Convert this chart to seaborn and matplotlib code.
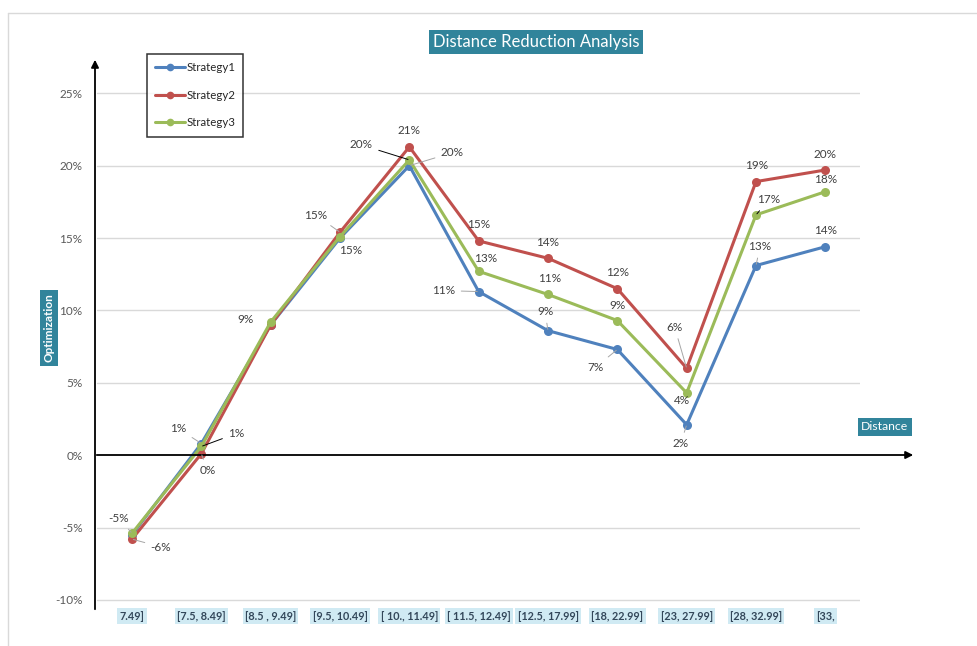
import numpy as np
import pandas as pd
import matplotlib
matplotlib.use("Agg")
import matplotlib.pyplot as plt
import matplotlib.transforms as mtransforms
from matplotlib.lines import Line2D
import seaborn as sns

# Distance buckets (as shown on the category axis)
categories = ["7.49]", "[7.5, 8.49]", "[8.5 , 9.49]", "[9.5, 10.49]", "[ 10., 11.49]",
              "[ 11.5, 12.49]", "[12.5, 17.99]", "[18, 22.99]", "[23, 27.99]",
              "[28, 32.99]", "[33,"]

# Optimization (%) per strategy
strategy1 = [-5.5, 0.8, 9.0, 15.0, 20.0, 11.3, 8.6, 7.3, 2.1, 13.1, 14.4]
strategy2 = [-5.8, 0.1, 9.0, 15.4, 21.3, 14.8, 13.6, 11.5, 6.0, 18.9, 19.7]
strategy3 = [-5.4, 0.6, 9.2, 15.1, 20.4, 12.7, 11.1, 9.3, 4.3, 16.6, 18.2]

series_names = ["Strategy1", "Strategy2", "Strategy3"]
y_ticks = [-10, -5, 0, 5, 10, 15, 20, 25]

df = pd.DataFrame({
    "pos": np.tile(np.arange(len(categories)), 3),
    "value": strategy1 + strategy2 + strategy3,
    "series": np.repeat(series_names, len(categories)),
})

palette = {"Strategy1": "#4F81BD", "Strategy2": "#C0504D", "Strategy3": "#9BBB59"}

sns.set_style("white")
plt.rcParams["font.family"] = ["Lato", "DejaVu Sans"]

W, H = 977, 646
fig = plt.figure(figsize=(W / 100, H / 100), dpi=100)

def fx(px):
    return px / W

def fy(py):
    return 1 - py / H

ax = fig.add_axes([fx(95), fy(610), fx(860) - fx(95), fy(60) - fy(610)])
ax.set_xlim(-0.534, 10.5)
ax.set_ylim(-10.7, 27.3)

# light horizontal gridlines
for v in y_ticks:
    if v != 0:
        ax.axhline(v, color="#d9d9d9", lw=1, zorder=0, xmin=0.003)

sns.lineplot(data=df, x="pos", y="value", hue="series", palette=palette,
             marker="o", markersize=6.5, markeredgewidth=0, linewidth=2.2,
             sort=False, ax=ax, legend=False, zorder=3)

for s in ax.spines.values():
    s.set_visible(False)

ax.set_xlabel("")
ax.set_ylabel("")
ax.set_xticks([])
ax.set_yticks(y_ticks)
ax.set_yticklabels([f"{v}%" for v in y_ticks], color="#595959", fontsize=8.5)
ax.tick_params(axis="y", length=0, pad=9)

# axis arrows
ax.annotate("", xy=(fx(95), fy(57)), xytext=(fx(95), fy(612)), xycoords="figure fraction",
            textcoords="figure fraction",
            arrowprops=dict(arrowstyle="-|>", color="black", lw=1.3, mutation_scale=11))
ax.annotate("", xy=(fx(916), fy(455)), xytext=(fx(94), fy(455)), xycoords="figure fraction",
            textcoords="figure fraction",
            arrowprops=dict(arrowstyle="-|>", color="black", lw=1.3, mutation_scale=11))

# category labels
cat_tr = mtransforms.blended_transform_factory(ax.transData, fig.transFigure)
for i, c in enumerate(categories):
    ax.text(i, fy(616), c, transform=cat_tr,
            ha="center", va="center", fontsize=7.8, fontweight="bold", color="#33475a",
            bbox=dict(boxstyle="square,pad=0.2", fc="#d0eaf3", ec="none"))

# data labels: (series, index, dx, dy, leader colour or None)
label_layout = [
    ("Strategy1", 1, -23, 15, "#a6a6a6"),
    ("Strategy1", 3, 11, -12, None),
    ("Strategy1", 4, 43, 13, "#a6a6a6"),
    ("Strategy1", 5, -35, 1, "#a6a6a6"),
    ("Strategy1", 6, -3, 19, "#a6a6a6"),
    ("Strategy1", 7, -22, -18, "#a6a6a6"),
    ("Strategy1", 8, -6, -19, "#a6a6a6"),
    ("Strategy1", 9, 4, 19, "#a6a6a6"),
    ("Strategy1", 10, 0, 16, None),
    ("Strategy2", 0, 29, -8, "#a6a6a6"),
    ("Strategy2", 1, 6, -17, "#a6a6a6"),
    ("Strategy2", 3, -24, 17, "#a6a6a6"),
    ("Strategy2", 4, 0, 16, None),
    ("Strategy2", 5, 0, 16, None),
    ("Strategy2", 6, 0, 16, None),
    ("Strategy2", 7, 0, 16, None),
    ("Strategy2", 8, -12, 41, "#a6a6a6"),
    ("Strategy2", 9, 1, 16, None),
    ("Strategy2", 10, 0, 16, None),
    ("Strategy3", 0, -13, 15, "#a6a6a6"),
    ("Strategy3", 1, 35, 13, "black"),
    ("Strategy3", 2, -25, 2, None),
    ("Strategy3", 4, -48, 15, "black"),
    ("Strategy3", 5, 7, 13, None),
    ("Strategy3", 6, 2, 16, None),
    ("Strategy3", 7, 0, 15, None),
    ("Strategy3", 8, -5, -8, None),
    ("Strategy3", 9, 13, 15, "black"),
    ("Strategy3", 10, 0, 12, None),
]
values = {"Strategy1": strategy1, "Strategy2": strategy2, "Strategy3": strategy3}
for name, i, dx, dy, lc in label_layout:
    v = values[name][i]
    txt = f"{v:.0f}%"
    kw = dict(xy=(i, v), xytext=(dx * 0.72, dy * 0.72), textcoords="offset points",
              ha="center", va="center", fontsize=8.5, color="#404040", zorder=5)
    if lc is not None:
        kw["arrowprops"] = dict(arrowstyle="-", color=lc, lw=0.7, shrinkA=2, shrinkB=1)
    ax.annotate(txt, **kw)

# title and axis titles on teal boxes
teal = "#31849B"
fig.text(fx(536), fy(42), "Distance Reduction Analysis", ha="center", va="center",
         fontsize=12, color="white",
         bbox=dict(boxstyle="square,pad=0.25", fc=teal, ec="none"))
fig.text(fx(49), fy(328), "Optimization", ha="center", va="center", rotation=90,
         fontsize=8.5, fontweight="bold", color="white",
         bbox=dict(boxstyle="square,pad=0.3", fc=teal, ec="none"))
fig.text(fx(885), fy(427), "Distance", ha="center", va="center",
         fontsize=8.8, color="white",
         bbox=dict(boxstyle="square,pad=0.3", fc=teal, ec="none"))

# legend
handles = [Line2D([0], [0], color=palette[n], lw=2.2, marker="o", markersize=5.5,
                  markeredgewidth=0) for n in series_names]
leg = fig.legend(handles, series_names, loc="upper left",
                 bbox_to_anchor=(fx(147), fy(54)), bbox_transform=fig.transFigure,
                 fontsize=8.3, frameon=True, fancybox=False, edgecolor="black",
                 labelspacing=1.45, handlelength=2.6, handletextpad=0.1,
                 borderpad=0.7, borderaxespad=0)
leg.get_frame().set_linewidth(1.1)

# outer chart border
fig.add_artist(Line2D([fx(8), fx(8)], [fy(13), 0], color="#d9d9d9", lw=1))
fig.add_artist(Line2D([fx(8), 1], [fy(13), fy(13)], color="#d9d9d9", lw=1))

fig.savefig("out.png", dpi=100)
